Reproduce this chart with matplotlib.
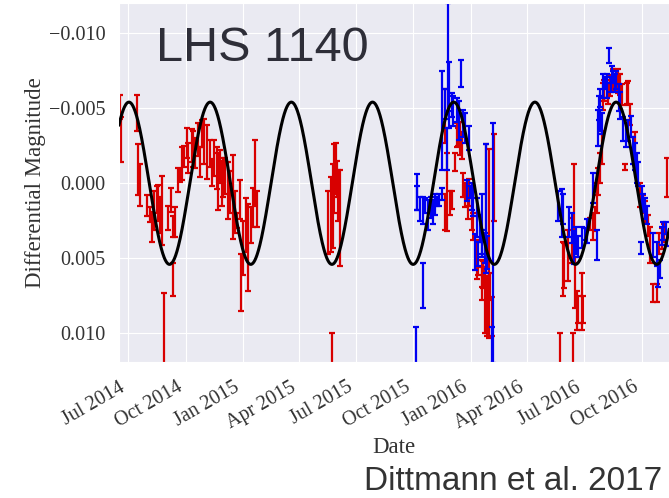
import numpy as np
import pandas as pd
import matplotlib
matplotlib.use('Agg')
import matplotlib.pyplot as plt
import matplotlib.dates as mdates
from matplotlib.ticker import FuncFormatter
import seaborn as sns

# MEarth light curve of LHS 1140, days counted from 2014-07-01
red_day = [-13.3, -11.7, 13.5, 16.0, 18.8, 29.5, 34.8, 37.5, 41.7, 45.5, 48.1, 50.8, 53.5, 57.7,
           64.1, 68.0, 71.2, 72.1, 74.9, 80.2, 82.9, 85.6, 89.3, 93.6, 96.2, 101.6, 104.2, 106.9,
           112.2, 114.9, 118.6, 121.8, 125.7, 131.0, 133.7, 137.9, 141.7, 144.3, 147.0, 149.7,
           152.3, 155.0, 160.3, 163.0, 167.4, 171.0, 174.7, 179.1, 180.2, 183.4, 188.7, 192.4,
           196.2, 200.4, 203.1, 205.8,
           320.6, 324.5, 326.0, 327.6, 330.2, 332.5, 334.1, 336.6, 339.4,
           507.7, 510.4, 508.5, 515.7, 518.4, 523.7, 526.4, 529.0, 531.7, 534.4, 537.0, 539.7,
           545.0, 550.5, 558.5, 561.1, 566.5, 569.1, 571.8, 574.5, 575.5, 578.2, 573.5, 579.3,
           582.5, 586.2, 567.5, 547.0, 553.1,
           692.4, 696.8, 698.3, 705.3, 710.8, 714.5, 716.1, 718.8, 721.4, 726.8, 729.4, 713.4,
           740.0, 745.4, 748.1, 750.8, 753.4, 756.1, 758.8, 760.4, 762.5, 766.8, 769.4, 772.1,
           776.5, 778.6, 785.5, 788.2, 790.9, 796.2, 798.9, 801.5, 804.2, 812.2, 820.2, 824.6,
           828.3, 833.6, 836.3, 840.6, 847.0, 851.2, 855.0, 858.7, 863.1]
red_mag = [-0.0051, -0.0029, -0.0047, -0.0009, 0.0001, 0.0015, 0.0021, 0.0029, 0.0018, 0.0011,
           0.0013, 0.0021, 0.0018, 0.0109, 0.0023, 0.0011, 0.0064, 0.0029, 0.0026, -0.0002,
           -0.0005, -0.0013, -0.0018, -0.0027, -0.0017, -0.0025, -0.0023, -0.0020, -0.0029,
           -0.0014, -0.0033, -0.0028, -0.0021, -0.0020, -0.0007, -0.0017, -0.0010, -0.0001,
           -0.0011, 0.0000, -0.0004, -0.0005, 0.0005, 0.0006, 0.0009, 0.0019, 0.0025, 0.0011,
           0.0066, 0.0043, 0.0028, 0.0043, 0.0028, 0.0016, -0.0007, 0.0017,
           0.0026, 0.0021, 0.0115, 0.0015, -0.0003, -0.0010, -0.0003, 0.0008, 0.0023,
           -0.0045, 0.0006, 0.0019, 0.0013, 0.0011, -0.0014, -0.0032, -0.0031, -0.0030, -0.0025,
           0.0001, 0.0008, 0.0013, 0.0018, 0.0051, 0.0056, 0.0067, 0.0061, 0.0078, 0.0083,
           0.0081, 0.0040, 0.0017, 0.0069, 0.0089, -0.0004, 0.0060, 0.0006, 0.0029,
           0.0115, 0.0057, 0.0055, 0.0048, 0.0038, 0.0020, 0.0066, 0.0085, 0.0084, 0.0079,
           0.0084, 0.0112,
           0.0027, 0.0029, 0.0024, 0.0010, -0.0001, -0.0010, -0.0024, -0.0058, -0.0062, -0.0063,
           -0.0060, -0.0065, -0.0069, -0.0066, -0.0068, -0.0066, -0.0059, -0.0011, -0.0060,
           -0.0060, -0.0046, -0.0026, 0.0008, 0.0014, 0.0019, 0.0028, 0.0041, 0.0073, 0.0073,
           0.0040, 0.0037, 0.0033, -0.0004]
red_err = [0.0008, 0.0015, 0.0012, 0.0017, 0.0014, 0.0007, 0.0005, 0.0010, 0.0013, 0.0009,
           0.0012, 0.0012, 0.0023, 0.0036, 0.0008, 0.0008, 0.0011, 0.0007, 0.0010, 0.0008,
           0.0004, 0.0011, 0.0007, 0.0010, 0.0010, 0.0011, 0.0012, 0.0010, 0.0011, 0.0010,
           0.0009, 0.0015, 0.0018, 0.0009, 0.0009, 0.0012, 0.0014, 0.0019, 0.0011, 0.0015,
           0.0013, 0.0012, 0.0019, 0.0014, 0.0028, 0.0014, 0.0005, 0.0013, 0.0019, 0.0018,
           0.0018, 0.0029, 0.0012, 0.0013, 0.0022, 0.0012,
           0.0021, 0.0025, 0.0015, 0.0028, 0.0023, 0.0017, 0.0012, 0.0017, 0.0032,
           0.0018, 0.0026, 0.0012, 0.0008, 0.0006, 0.0006, 0.0008, 0.0006, 0.0011, 0.0009,
           0.0008, 0.0008, 0.0011, 0.0013, 0.0013, 0.0005, 0.0011, 0.0009, 0.0022, 0.0019,
           0.0019, 0.0063, 0.0043, 0.0009, 0.0013, 0.0029, 0.0009, 0.0009, 0.0009,
           0.0015, 0.0018, 0.0015, 0.0017, 0.0015, 0.0033, 0.0017, 0.0013, 0.0009, 0.0019,
           0.0009, 0.0012,
           0.0004, 0.0009, 0.0008, 0.0010, 0.0009, 0.0010, 0.0011, 0.0009, 0.0007, 0.0006,
           0.0007, 0.0007, 0.0007, 0.0004, 0.0008, 0.0007, 0.0007, 0.0002, 0.0007, 0.0008,
           0.0007, 0.0008, 0.0008, 0.0006, 0.0007, 0.0007, 0.0012, 0.0006, 0.0006, 0.0007,
           0.0007, 0.0006, 0.0013]

blue_day = [461.2, 462.3, 463.3, 467.6, 471.9, 473.0, 475.6, 480.9, 484.7, 488.9, 491.6, 495.3,
            498.5, 502.4, 503.3, 507.7, 510.4, 513.0, 514.6, 518.4, 521.0, 526.4, 530.6, 533.3,
            537.0, 539.7, 546.6, 542.4, 547.4, 550.5, 553.1, 555.8, 558.5, 561.1, 563.8, 566.5,
            567.0, 571.8, 574.5, 573.5, 582.5, 585.1,
            689.3, 694.8, 697.3, 707.0, 710.8, 714.5, 717.7, 721.4, 726.8, 732.1, 734.8, 745.4,
            750.8, 753.4, 756.1, 758.8, 761.4, 764.1, 766.8, 771.0, 774.8, 777.4, 780.1, 782.8,
            787.0, 789.2, 793.5, 797.8, 801.5, 805.4, 809.5, 812.2, 814.9, 817.5, 821.4, 823.0,
            825.6, 828.3, 831.9, 841.6, 847.0, 849.6, 852.3, 855.0, 857.6, 861.9, 864.0,
            754.0, 757.0, 768.0, 773.5]
blue_mag = [0.0112, 0.0010, 0.0006, 0.0017, 0.0018, 0.0068, 0.0015, 0.0021, 0.0016, 0.0019,
            0.0014, 0.0012, 0.0011, 0.0007, -0.0042, -0.0053, -0.0023, -0.0084, -0.0059, -0.0052,
            -0.0048, -0.0049, -0.0042, -0.0073, -0.0040, -0.0037, -0.0030, 0.0005, 0.0006, 0.0009,
            0.0012, 0.0046, 0.0023, 0.0047, 0.0030, 0.0040, 0.0027, 0.0043, 0.0046, 0.0017,
            0.0113, 0.0040,
            0.0015, 0.0020, 0.0017, 0.0026, 0.0030, 0.0043, 0.0038, 0.0042, 0.0036, 0.0034,
            0.0032, 0.0003, 0.0041, -0.0037, -0.0042, -0.0040, -0.0065, -0.0067, -0.0070,
            -0.0085, -0.0074, -0.0071, -0.0067, -0.0069, -0.0057, -0.0052, -0.0036, -0.0032,
            -0.0035, -0.0038, -0.0022, -0.0018, -0.0010, -0.0006, 0.0043, 0.0009, 0.0013,
            0.0017, 0.0021, 0.0041, 0.0047, 0.0061, 0.0057, 0.0035, 0.0032, 0.0030, 0.0038,
            -0.0050, -0.0057, -0.0062, -0.0066]
blue_err = [0.0016, 0.0008, 0.0012, 0.0008, 0.0009, 0.0015, 0.0005, 0.0010, 0.0007, 0.0008,
            0.0007, 0.0003, 0.0004, 0.0004, 0.0033, 0.0010, 0.0014, 0.0036, 0.0022, 0.0008,
            0.0010, 0.0008, 0.0013, 0.0009, 0.0009, 0.0010, 0.0008, 0.0007, 0.0004, 0.0009,
            0.0010, 0.0012, 0.0013, 0.0008, 0.0009, 0.0009, 0.0020, 0.0010, 0.0011, 0.0043,
            0.0017, 0.0080,
            0.0010, 0.0016, 0.0010, 0.0010, 0.0010, 0.0011, 0.0009, 0.0007, 0.0007, 0.0004,
            0.0008, 0.0010, 0.0010, 0.0012, 0.0007, 0.0007, 0.0008, 0.0004, 0.0003, 0.0005,
            0.0004, 0.0004, 0.0006, 0.0006, 0.0009, 0.0009, 0.0008, 0.0008, 0.0007, 0.0007,
            0.0009, 0.0009, 0.0010, 0.0008, 0.0004, 0.0007, 0.0006, 0.0007, 0.0006, 0.0008,
            0.0008, 0.0008, 0.0006, 0.0006, 0.0006, 0.0004, 0.0004,
            0.0008, 0.0006, 0.0005, 0.0005]

# sinusoidal rotation model
rot_period = 130.2      # days
rot_amp = 0.0054        # mag
rot_peak_day = 1.0      # brightest point, days after 2014-07-01

start = pd.Timestamp('2014-07-01')

sns.set_style('darkgrid')
plt.rcParams['font.family'] = ['Liberation Serif', 'DejaVu Serif']

fig = plt.figure(figsize=(6.69, 4.98), dpi=100)
ax = fig.add_axes([0.1779, 0.2731, 0.8221, 0.7209])

red_dates = start + pd.to_timedelta(red_day, unit='D')
blue_dates = start + pd.to_timedelta(blue_day, unit='D')
ax.errorbar(red_dates, red_mag, yerr=red_err, fmt='none', ecolor='#d80000',
            elinewidth=1.6, capsize=2.2, capthick=1.6)
ax.errorbar(blue_dates, blue_mag, yerr=blue_err, fmt='none', ecolor='#0000f2',
            elinewidth=1.6, capsize=2.2, capthick=1.6)

model_day = np.linspace(-20, 880, 2000)
model_mag = -rot_amp * np.cos(2 * np.pi * (model_day - rot_peak_day) / rot_period)
ax.plot(start + pd.to_timedelta(model_day, unit='D'), model_mag, color='black', lw=2.2, zorder=5)

ax.set_xlim(start + pd.Timedelta(days=-14.9), start + pd.Timedelta(days=867))
ax.set_ylim(0.0119, -0.0120)
ax.set_yticks([-0.010, -0.005, 0.0, 0.005, 0.010])
ax.yaxis.set_major_formatter(FuncFormatter(lambda v, p: f'{v:.3f}'.replace('-', '\u2212')))
ax.xaxis.set_major_locator(mdates.MonthLocator(bymonth=[1, 4, 7, 10]))
ax.xaxis.set_major_formatter(mdates.DateFormatter('%b %Y'))
ax.tick_params(axis='both', labelsize=14.5, colors='#333333')
ax.tick_params(axis='y', pad=6.5)
ax.tick_params(axis='x', pad=8)
plt.setp(ax.get_xticklabels(), rotation=30, ha='right')

ax.set_xlabel('Date', fontsize=16.5, color='#333333', labelpad=3)
ax.set_ylabel('Differential Magnitude', fontsize=16.5, color='#333333', labelpad=2)

ax.text(0.068, 0.935, 'LHS 1140', transform=ax.transAxes, fontsize=35,
        family='Liberation Sans', color='#2e2e38', va='top', ha='left')
fig.text(0.99, 0.016, 'Dittmann et al. 2017', fontsize=24, family='Liberation Sans',
         color='#333333', ha='right', va='baseline')

fig.savefig('out.png', dpi=100)
